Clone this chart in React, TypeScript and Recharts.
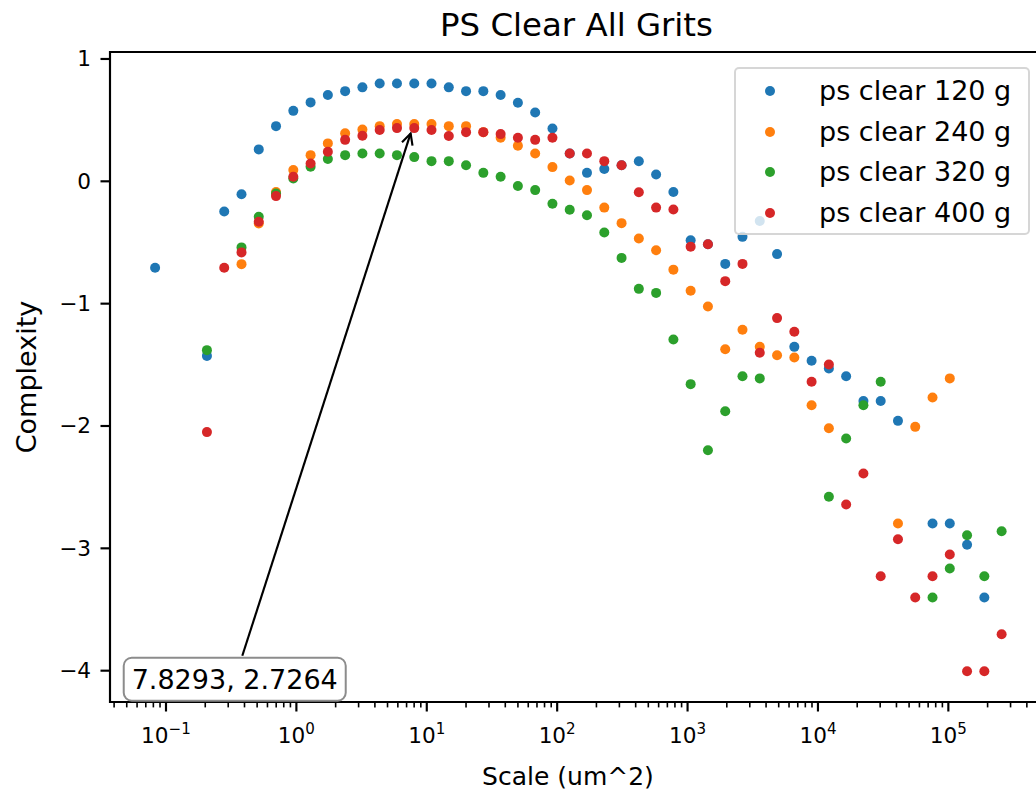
import React from 'react';
import { ScatterChart, Scatter, XAxis, YAxis, ReferenceArea, ReferenceLine, Legend } from 'recharts';

const FONT = "'DejaVu Sans', sans-serif";

// Scale values (um^2) of the measurement grid
const scales = [
  0.0825, 0.1119, 0.1519, 0.206, 0.2796, 0.3794, 0.5145, 0.698, 0.9471, 1.285,
  1.743, 2.365, 3.209, 4.354, 5.908, 8.015, 10.87, 14.75, 20.01, 27.15,
  36.84, 49.98, 67.81, 92.0, 124.8, 169.3, 229.8, 311.8, 422.9, 573.9,
  778.6, 1056, 1433, 1945, 2638, 3579, 4857, 6589, 8937, 12127,
  16451, 22319, 30282, 41078, 55736, 75620, 102590, 139200, 188800, 256200,
];

const clear120 = [
  -0.707, null, null, -1.427, -0.246, -0.105, 0.261, 0.451, 0.576, 0.645,
  0.705, 0.737, 0.768, 0.8, 0.8, 0.8, 0.8, 0.768, 0.737, 0.737,
  0.705, 0.642, 0.563, 0.432, 0.228, 0.069, 0.1, 0.132, 0.164, 0.055,
  -0.088, -0.481, -0.515, -0.675, -0.454, -0.325, -0.595, -1.353, -1.466, -1.53,
  -1.593, -1.795, -1.795, -1.958, null, -2.797, -2.797, -2.97, -3.402, null,
];

const clear240 = [
  null, null, null, null, null, -0.677, -0.344, -0.088, 0.092, 0.214,
  0.31, 0.392, 0.424, 0.451, 0.468, 0.468, 0.468, 0.451, 0.451, 0.402,
  0.356, 0.29, 0.228, 0.116, 0.007, -0.072, -0.215, -0.342, -0.468, -0.564,
  -0.722, -0.895, -1.023, -1.372, -1.214, -1.353, -1.421, -1.44, -1.831, -2.018,
  null, null, null, -2.797, -2.007, -1.767, -1.611, null, null, null,
];

const clear320 = [
  null, null, null, -1.38, null, -0.54, -0.29, -0.099, 0.024, 0.119,
  0.182, 0.214, 0.228, 0.228, 0.214, 0.198, 0.165, 0.165, 0.132, 0.069,
  0.037, -0.039, -0.072, -0.184, -0.233, -0.278, -0.419, -0.626, -0.879, -0.912,
  -1.293, -1.658, -2.198, -1.879, -1.593, -1.611, null, null, null, -2.578,
  -2.102, -1.83, -1.639, null, null, -3.402, -3.165, -2.893, -3.228, -2.86,
];

const clear400 = [
  null, null, null, -2.05, -0.707, -0.581, -0.331, -0.121, 0.037, 0.146,
  0.241, 0.339, 0.372, 0.419, 0.435, 0.435, 0.419, 0.37, 0.402, 0.402,
  0.386, 0.356, 0.339, 0.356, 0.228, 0.228, 0.165, 0.132, -0.09, -0.215,
  -0.231, -0.534, -0.515, -0.816, -0.675, -1.402, -1.118, -1.23, -1.639, -1.497,
  -2.641, -2.388, -3.228, -2.925, -3.402, -3.228, -3.05, -4.005, -4.005, -3.702,
];

const seriesNames = ['ps clear 120 g', 'ps clear 240 g', 'ps clear 320 g', 'ps clear 400 g'];
const seriesColors = ['#1f77b4', '#ff7f0e', '#2ca02c', '#d62728'];
const seriesValues = [clear120, clear240, clear320, clear400];

const xMajorTicks = [0.1, 1, 10, 100, 1000, 10000, 100000];
const xMajorExponents = ['\u22121', '0', '1', '2', '3', '4', '5'];
const xMinorTicks = [
  0.04, 0.05, 0.06, 0.07, 0.08, 0.09,
  0.2, 0.3, 0.4, 0.5, 0.6, 0.7, 0.8, 0.9,
  2, 3, 4, 5, 6, 7, 8, 9,
  20, 30, 40, 50, 60, 70, 80, 90,
  200, 300, 400, 500, 600, 700, 800, 900,
  2000, 3000, 4000, 5000, 6000, 7000, 8000, 9000,
  20000, 30000, 40000, 50000, 60000, 70000, 80000, 90000,
  200000, 300000, 400000, 500000,
];
const yTicks = [-4, -3, -2, -1, 0, 1];
const yTickLabels = ['\u22124', '\u22123', '\u22122', '\u22121', '0', '1'];

const X_DOMAIN: [number, number] = [0.0372, 532000];
const Y_DOMAIN: [number, number] = [-4.256, 1.057];

const annotationTarget = { x: 7.6, y: 0.407 };
const annotationTextAt = { x: 0.3366, y: -4.07 };
const annotationText = '7.8293, 2.7264';

const titleText = 'PS Clear All Grits';
const xLabelText = 'Scale (um^2)';
const yLabelText = 'Complexity';

const allXTicks = [...xMajorTicks, ...xMinorTicks].sort((a, b) => a - b);

const XTick = (props: any) => {
  const { x, y, payload } = props;
  const v = payload.value;
  const idx = xMajorTicks.findIndex((t) => Math.abs(t - v) < t * 1e-6);
  const major = idx >= 0;
  return (
    <g>
      <line x1={x} x2={x} y1={y} y2={y + (major ? 9.5 : 5.4)} stroke="#000" strokeWidth={major ? 2.16 : 1.6} />
      {major && (
        <text x={x} y={y + 41} textAnchor="middle" fontSize={21.6} fontFamily={FONT} fill="#000">
          <tspan>10</tspan>
          <tspan dy={-9} fontSize={15.1}>{xMajorExponents[idx]}</tspan>
        </text>
      )}
    </g>
  );
};

const YTick = (props: any) => {
  const { x, y, payload } = props;
  const idx = yTicks.indexOf(payload.value);
  return (
    <g>
      <line x1={x} x2={x - 9.5} y1={y} y2={y} stroke="#000" strokeWidth={2.16} />
      <text x={x - 19} y={y} textAnchor="end" dominantBaseline="central" fontSize={21.6} fontFamily={FONT} fill="#000">
        {idx >= 0 ? yTickLabels[idx] : ''}
      </text>
    </g>
  );
};

const XLabel = () => (
  <text x={568} y={785} textAnchor="middle" fontSize={25} fontFamily={FONT} fill="#000">
    {xLabelText}
  </text>
);

const YLabelAndTitle = () => (
  <g>
    <text transform="translate(36,377) rotate(-90)" textAnchor="middle" fontSize={27} fontFamily={FONT} fill="#000">
      {yLabelText}
    </text>
    <text x={576.5} y={36} textAnchor="middle" fontSize={32.4} fontFamily={FONT} fill="#000">
      {titleText}
    </text>
  </g>
);

const AnnotationShape = (props: any) => {
  const { x1, y1, x2, y2 } = props;
  if ([x1, y1, x2, y2].some((v) => typeof v !== 'number' || isNaN(v))) return null;
  const boxW = 222;
  const boxH = 43;
  const dx = x2 - x1;
  const dy = y2 - y1;
  const len = Math.hypot(dx, dy);
  const ux = dx / len;
  const uy = dy / len;
  const t0 = (boxH / 2 + 2) / Math.abs(uy);
  const sx = x1 + ux * t0;
  const sy = y1 + uy * t0;
  const ex = x2 - ux * 2;
  const ey = y2 - uy * 2;
  const hl = 11;
  const hw = 5.5;
  const bx = ex - ux * hl;
  const by = ey - uy * hl;
  const px = -uy;
  const py = ux;
  return (
    <g>
      <line x1={sx} y1={sy} x2={ex} y2={ey} stroke="#000" strokeWidth={2.16} />
      <polyline
        points={`${bx + px * hw},${by + py * hw} ${ex},${ey} ${bx - px * hw},${by - py * hw}`}
        fill="none"
        stroke="#000"
        strokeWidth={2.16}
      />
      <rect x={x1 - boxW / 2} y={y1 - boxH / 2} width={boxW} height={boxH} rx={8} ry={8} fill="#fff" stroke="#8c8c8c" strokeWidth={2} />
      <text x={x1} y={y1} textAnchor="middle" dominantBaseline="central" fontSize={27} fontFamily={FONT} fill="#000">
        {annotationText}
      </text>
    </g>
  );
};

const LegendContent = () => (
  <div
    style={{
      position: 'relative',
      width: 296,
      height: 168,
      boxSizing: 'border-box',
      border: '2px solid rgba(204,204,204,0.8)',
      borderRadius: 5,
      background: 'rgba(255,255,255,0.8)',
      fontFamily: FONT,
    }}
  >
    {seriesNames.map((n, i) => (
      <div key={n} style={{ position: 'absolute', left: 0, top: 22 + i * 40.5 - 20, height: 40, width: '100%' }}>
        <span
          style={{
            position: 'absolute',
            left: 29,
            top: 15,
            width: 10,
            height: 10,
            borderRadius: '50%',
            background: seriesColors[i],
          }}
        />
        <span
          style={{
            position: 'absolute',
            left: 83,
            top: 0,
            lineHeight: '40px',
            fontSize: 27,
            color: '#000',
            whiteSpace: 'nowrap',
          }}
        >
          {n}
        </span>
      </div>
    ))}
  </div>
);

const seriesData = seriesValues.map((vals) =>
  vals
    .map((v, i) => (v === null ? null : { x: scales[i], y: v }))
    .filter((p) => p !== null) as { x: number; y: number }[]
);

export default function App() {
  return (
    <div style={{ position: 'fixed', left: 0, top: 0, width: 1036, height: 801, overflow: 'hidden', background: '#fff' }}>
      <ScatterChart width={1044} height={801} margin={{ top: 52, right: 1, bottom: 0, left: 0 }}>
        <XAxis
          type="number"
          dataKey="x"
          scale="log"
          domain={X_DOMAIN}
          allowDataOverflow
          ticks={allXTicks}
          interval={0}
          tickSize={0}
          tickMargin={0}
          tick={<XTick />}
          axisLine={false}
          tickLine={false}
          height={99}
          label={<XLabel />}
        />
        <YAxis
          type="number"
          dataKey="y"
          domain={Y_DOMAIN}
          allowDataOverflow
          ticks={yTicks}
          interval={0}
          tickSize={0}
          tickMargin={0}
          tick={<YTick />}
          axisLine={false}
          tickLine={false}
          width={110}
          label={<YLabelAndTitle />}
        />
        <ReferenceArea
          x1={X_DOMAIN[0]}
          x2={X_DOMAIN[1]}
          y1={Y_DOMAIN[0]}
          y2={Y_DOMAIN[1]}
          fill="none"
          fillOpacity={0}
          stroke="#000"
          strokeWidth={2.16}
          ifOverflow="visible"
        />
        {seriesData.map((d, si) => (
          <Scatter
            key={seriesNames[si]}
            name={seriesNames[si]}
            data={d}
            fill={seriesColors[si]}
            isAnimationActive={false}
            shape={(p: any) => <circle cx={p.cx} cy={p.cy} r={5} fill={seriesColors[si]} />}
          />
        ))}
        <ReferenceLine
          segment={[annotationTextAt, annotationTarget]}
          ifOverflow="visible"
          shape={AnnotationShape}
        />
        <Legend
          layout="vertical"
          align="center"
          verticalAlign="middle"
          content={LegendContent}
          wrapperStyle={{ top: 67, left: 734, width: 296, height: 168 }}
        />
      </ScatterChart>
    </div>
  );
}
